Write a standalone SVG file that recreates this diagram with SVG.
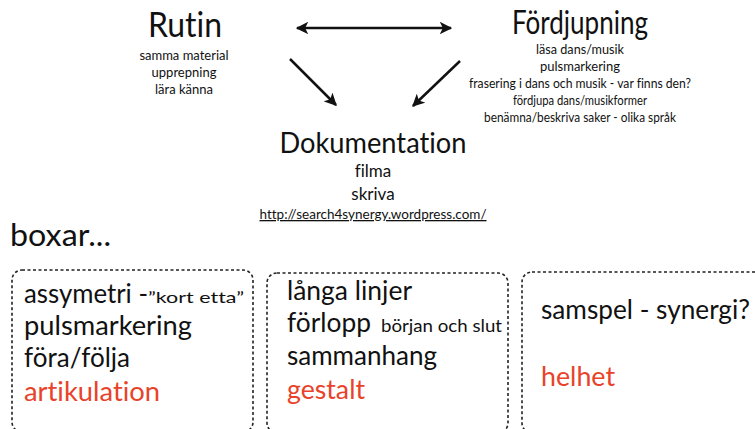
<svg xmlns="http://www.w3.org/2000/svg" width="755" height="429" viewBox="0 0 755 429">
<style>
text{font-family:"Lato","Open Sans","Liberation Sans",sans-serif;fill:#111;font-variant-ligatures:none}
.c{text-anchor:middle}
.t{font-size:34px}
.s{font-size:13px}
.b{font-size:26px}
.r{fill:#e8432a}
.box{fill:none;stroke:#222;stroke-width:1.6;stroke-dasharray:3 2.5}
.con{stroke:#111;stroke-width:2.5;fill:none}
</style>
<defs>
<marker id="ah" viewBox="0 0 10 10" refX="9" refY="5" markerWidth="5" markerHeight="5" orient="auto-start-reverse" markerUnits="strokeWidth">
<path d="M0,0 L10,5 L0,10 L2.5,5 Z" fill="#111"/>
</marker>
</defs>
<rect width="755" height="429" fill="#fff"/>
<g id="rutin">
<text class="c t" x="185" y="37" textLength="74" lengthAdjust="spacingAndGlyphs">Rutin</text>
<text class="c s" x="184" y="60">samma material</text>
<text class="c s" x="184" y="77">upprepning</text>
<text class="c s" x="184" y="94">lära känna</text>
</g>
<g id="fordjupning">
<text class="c" x="580" y="34" style="font-size:32px" textLength="136" lengthAdjust="spacingAndGlyphs">Fördjupning</text>
<text class="c s" x="580" y="54" textLength="88" lengthAdjust="spacingAndGlyphs">läsa dans/musik</text>
<text class="c s" x="580" y="71" textLength="80" lengthAdjust="spacingAndGlyphs">pulsmarkering</text>
<text class="c s" x="580" y="88" textLength="222" lengthAdjust="spacingAndGlyphs">frasering i dans och musik - var finns den?</text>
<text class="c s" x="580" y="105" textLength="134" lengthAdjust="spacingAndGlyphs">fördjupa dans/musikformer</text>
<text class="c s" x="580" y="122" textLength="192" lengthAdjust="spacingAndGlyphs">benämna/beskriva saker - olika språk</text>
</g>
<g id="dokumentation">
<text class="c" x="373" y="153" style="font-size:28px" textLength="187" lengthAdjust="spacingAndGlyphs">Dokumentation</text>
<text class="c" x="373" y="177" style="font-size:17px">filma</text>
<text class="c" x="373" y="200" style="font-size:17px">skriva</text>
<text class="c" x="373" y="219" style="font-size:13px;text-decoration:underline" textLength="227" lengthAdjust="spacingAndGlyphs">http://search4synergy.wordpress.com/</text>
</g>
<g id="connectors">
<line class="con" x1="297" y1="28" x2="451" y2="28" marker-start="url(#ah)" marker-end="url(#ah)"/>
<line class="con" x1="290" y1="59" x2="336" y2="105" marker-end="url(#ah)"/>
<line class="con" x1="460" y1="61" x2="413" y2="106" marker-end="url(#ah)"/>
</g>
<g id="title">
<text x="10" y="246" style="font-size:31px" textLength="101" lengthAdjust="spacingAndGlyphs">boxar...</text>
</g>
<g id="box1">
<rect class="box" x="12" y="270" width="241" height="162" rx="10"/>
<text class="b" x="24" y="303"><tspan textLength="124" lengthAdjust="spacingAndGlyphs">assymetri -</tspan><tspan style="font-size:15px" textLength="96" lengthAdjust="spacingAndGlyphs">”kort etta”</tspan></text>
<text class="b" x="24" y="335" textLength="168" lengthAdjust="spacingAndGlyphs">pulsmarkering</text>
<text class="b" x="24" y="367" textLength="106" lengthAdjust="spacingAndGlyphs">föra/följa</text>
<text class="b r" x="24" y="401" textLength="136" lengthAdjust="spacingAndGlyphs">artikulation</text>
</g>
<g id="box2">
<rect class="box" x="267" y="273" width="241" height="160" rx="10"/>
<text class="b" x="287" y="300" textLength="125" lengthAdjust="spacingAndGlyphs">långa linjer</text>
<text class="b" x="287" y="332"><tspan textLength="84" lengthAdjust="spacingAndGlyphs">förlopp</tspan><tspan x="381" style="font-size:17px" textLength="121" lengthAdjust="spacingAndGlyphs">början och slut</tspan></text>
<text class="b" x="287" y="365" textLength="150" lengthAdjust="spacingAndGlyphs">sammanhang</text>
<text class="b r" x="287" y="399" textLength="78" lengthAdjust="spacingAndGlyphs">gestalt</text>
</g>
<g id="box3">
<rect class="box" x="522" y="272" width="260" height="161" rx="10"/>
<text class="b" x="541" y="319" textLength="209" lengthAdjust="spacingAndGlyphs">samspel - synergi?</text>
<text class="b r" x="541" y="386" textLength="74" lengthAdjust="spacingAndGlyphs">helhet</text>
</g>
</svg>
